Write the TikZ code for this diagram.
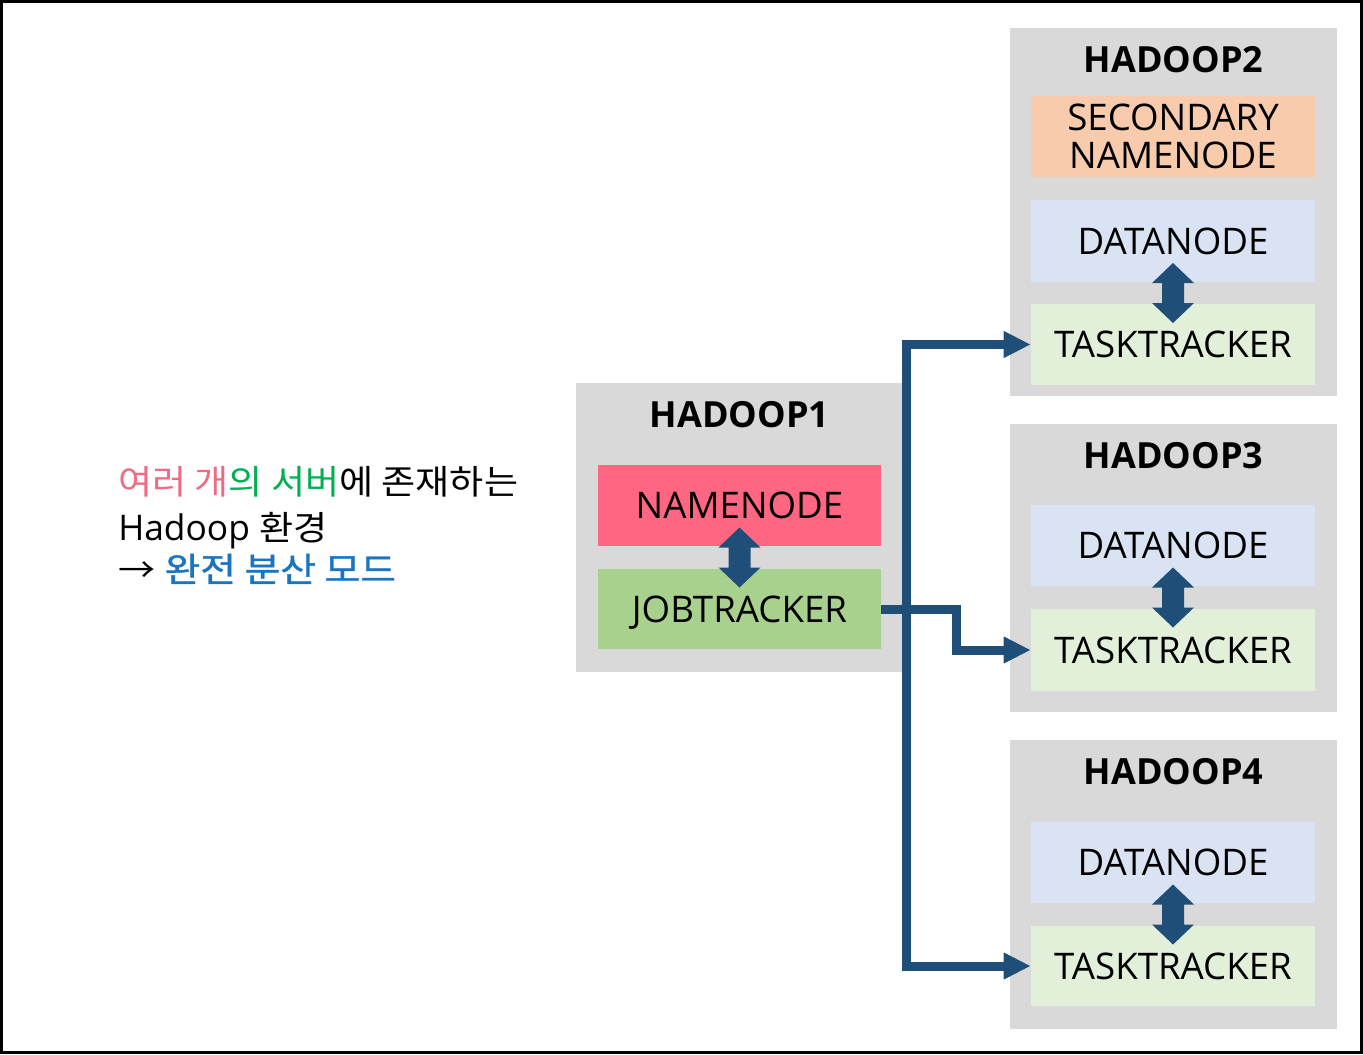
\documentclass[tikz,border=0pt]{standalone}
\usepackage{fontspec}
\setmainfont{Open Sans}
\newfontfamily\kr[FakeStretch=1.09]{Noto Sans CJK KR}
\newfontfamily\krb[FakeBold=1.2,FakeStretch=1.14]{Noto Sans CJK KR}
\usetikzlibrary{arrows.meta,calc}
\definecolor{grayc}{HTML}{D9D9D9}
\definecolor{nnc}{HTML}{FF6682}
\definecolor{jtc}{HTML}{A9D18E}
\definecolor{snc}{HTML}{F8CBAD}
\definecolor{dnc}{HTML}{DAE3F3}
\definecolor{ttc}{HTML}{E2F0D9}
\definecolor{arrc}{HTML}{1F4E79}
\definecolor{pinkc}{HTML}{F06A84}
\definecolor{greenc}{HTML}{00B050}
\definecolor{bluec}{HTML}{1A74BF}
\newcommand\dblarr[1]{%
  \fill[arrc] ($(#1)+(0,-30)$) -- ++(21,20) -- ++(-10,0) -- ++(0,20) -- ++(10,0)
    -- ++(-21,20) -- ++(-21,-20) -- ++(10,0) -- ++(0,-20) -- ++(-10,0) -- cycle;}
\begin{document}
\begin{tikzpicture}[x=0.75pt,y=-0.75pt,
  server/.style 2 args={fill=grayc, inner sep=0pt, minimum width=#1*0.75pt, minimum height=#2*0.75pt},
  comp/.style n args={3}{fill=#1, inner sep=0pt, minimum width=#2*0.75pt, minimum height=#3*0.75pt,
     font=\fontsize{27.5pt}{30pt}\selectfont, align=center},
  title/.style={anchor=base, font=\fontsize{27pt}{30pt}\selectfont\bfseries},
  conn/.style={draw=arrc, line width=6.75pt, -{Triangle[length=20.25pt,width=18.75pt]}},
  krline/.style={anchor=base west, inner sep=0pt, font=\fontsize{25.5pt}{30pt}\selectfont}]
\useasboundingbox (0,0) rectangle (1363,1054);
\draw[line width=2.25pt] (1.2,1.2) rectangle (1361.6,1052.6);
% servers
\node[server={327}{289}] (h1) at (739.5,527.5) {};
\node[server={327}{368}] (h2) at (1173.5,212) {};
\node[server={327}{288}] (h3) at (1173.5,568) {};
\node[server={327}{289}] (h4) at (1173.5,884.5) {};
\node[title] (t1) at (739.5,427) {HADOOP1};
\node[title] (t2) at (1173.5,72) {HADOOP2};
\node[title] (t3) at (1173.5,468) {HADOOP3};
\node[title] (t4) at (1173.5,784) {HADOOP4};
% components
\node[comp={nnc}{283}{81}] (nn) at (739.5,505.5) {NAMENODE};
\node[comp={jtc}{283}{80}, text depth=0pt] (jt) at (739.5,609) {JOBTRACKER};
\node[comp={snc}{284}{81}] (sn) at (1173,136.5) {SECONDARY\\[-1pt]NAMENODE};
\node[comp={dnc}{284}{82}] (dn2) at (1173,241) {DATANODE};
\node[comp={ttc}{284}{81}] (tt2) at (1173,344.5) {TASKTRACKER};
\node[comp={dnc}{284}{81}] (dn3) at (1173,545.5) {DATANODE};
\node[comp={ttc}{284}{82}] (tt3) at (1173,650) {TASKTRACKER};
\node[comp={dnc}{284}{81}] (dn4) at (1173,862.5) {DATANODE};
\node[comp={ttc}{284}{80}] (tt4) at (1173,966) {TASKTRACKER};
% double arrows between components
\dblarr{$(nn.south)!0.5!(jt.north)$}
\dblarr{$(dn2.south)!0.5!(tt2.north)$}
\dblarr{$(dn3.south)!0.5!(tt3.north)$}
\dblarr{$(dn4.south)!0.5!(tt4.north)$}
% connectors
\coordinate (vx) at (906,600);
\coordinate (jx) at (956,630);
\draw[conn, {Triangle[length=20.25pt,width=18.75pt]}-{Triangle[length=20.25pt,width=18.75pt]}]
  (tt2.west) -| (vx) |- (tt4.west);
\draw[conn] (jt.east) -| (jx) |- (tt3.west);
% left text
\node[krline] (l1) at (118,494) {{\kr\color{pinkc}여러 개}{\kr\color{greenc}의 서버}{\kr 에 존재하는}};
\node[krline, font=\fontsize{26.5pt}{30pt}\selectfont] (l2) at (118,540) {Hadoop {\kr\fontsize{25.5pt}{30pt}\selectfont 환경}};
\node[krline] (l3) at (118,582) {{\kr →}\hspace{7pt}{\krb\color{bluec}완전 분산 모드}};
\end{tikzpicture}
\end{document}
